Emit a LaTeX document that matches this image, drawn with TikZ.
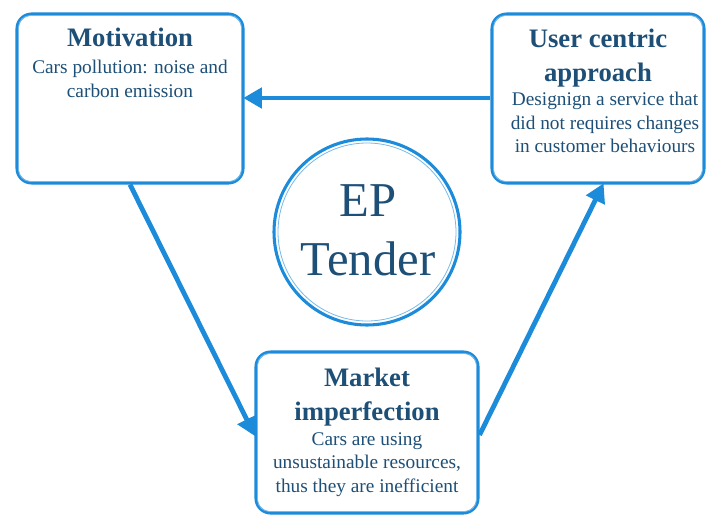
\documentclass[tikz,border=0pt]{standalone}
\usepackage{fontspec}
\setmainfont{Liberation Serif}
\usetikzlibrary{arrows.meta,calc}
\definecolor{bord}{HTML}{1C8BD9}
\definecolor{txt}{HTML}{1D4F77}
\tikzset{
  boxshape/.style={draw=bord, line width=2.3pt, rounded corners=11pt, inner sep=0pt, fill=white},
  innerline/.style={draw=bord!60, line width=0.6pt, rounded corners=9pt},
  boxtext/.style={text=txt, align=center, inner sep=0pt, anchor=north},
  ttl/.style={font=\fontsize{20}{25.5}\selectfont\bfseries},
  body/.style={font=\fontsize{14.5}{17.6}\selectfont},
  conn/.style={draw=bord, line width=3.6pt, -{Triangle[length=14pt,width=15pt]}, shorten >=-1pt}
}
\begin{document}
\begin{tikzpicture}[x=0.75pt,y=-0.75pt]
\useasboundingbox (0,0) rectangle (707,517);
% boxes
\node[boxshape, minimum width=226*0.75pt, minimum height=169*0.75pt] (mot) at (130,98.5) {};
\node[boxshape, minimum width=212*0.75pt, minimum height=169*0.75pt] (usr) at (598,98.5) {};
\node[boxshape, minimum width=222*0.75pt, minimum height=161*0.75pt] (mkt) at (367,432.5) {};
\node[draw=bord, line width=2.3pt, circle, minimum size=186*0.75pt, inner sep=0pt] (ep) at (367,232) {};
% inner thin lines
\draw[innerline] ($(mot.south west)+(3,-3)$) rectangle ($(mot.north east)+(-3,3)$);
\draw[innerline] ($(usr.south west)+(3,-3)$) rectangle ($(usr.north east)+(-3,3)$);
\draw[innerline] ($(mkt.south west)+(3,-3)$) rectangle ($(mkt.north east)+(-3,3)$);
\draw[draw=bord!60, line width=0.6pt] (ep.center) circle[radius=89*0.75pt];
% texts
\node[boxtext, ttl] (motT) at (130,28) {Motivation};
\node[boxtext, body] (motB) at (130,60) {Cars pollution: noise and\\carbon emission};
\node[boxtext, ttl] (usrT) at (598,29) {User centric\\approach};
\node[boxtext, body] (usrB) at (605,92) {Designign a service that\\did not requires changes\\in customer behaviours};
\node[boxtext, ttl] (mktT) at (367,368) {Market\\imperfection};
\node[boxtext, body] (mktB) at (367,432) {Cars are using\\unsustainable resources,\\thus they are inefficient};
\node[text=txt, align=center, font=\fontsize{36.5}{44}\selectfont] (epT) at (368,230) {EP\\Tender};
% connectors
\draw[conn] (usr.west |- 0,98) -- (mot.east |- 0,98);
\draw[conn] (mot.south -| 130,0) -- (mkt.west |- 0,435);
\draw[conn] (mkt.east |- 0,435) -- (usr.south -| 603,0);
\end{tikzpicture}
\end{document}
